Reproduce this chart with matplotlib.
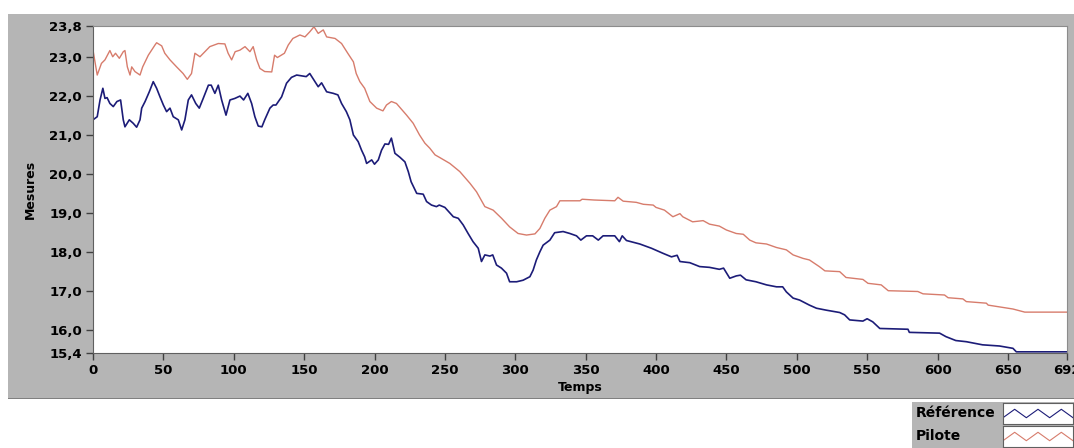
import matplotlib.pyplot as plt
from matplotlib.patches import Rectangle

# Référence (blue)
ref_t = [0, 3, 5, 7, 8.5, 10, 12, 14.4, 17, 19.6, 21.5, 22.7, 25.8, 28.6, 31, 33.4,
         34.6, 37, 40, 42.8, 45.2, 47.6, 50, 52.3, 54.7, 57, 60.6, 63, 65.3, 67.7,
         70, 73, 75.5, 78.3, 82, 84, 86.6, 89, 91.4, 94.5, 97.3, 100.8, 104.4, 107,
         110, 112.7, 115, 117.4, 120, 122, 125.7, 128, 130, 134, 137.5, 141, 144.7,
         148, 151.5, 154, 157.7, 160, 162.4, 166, 170.7, 174, 176.6, 180, 182.5, 185,
         188.4, 190.8, 193, 194.4, 198, 200, 202.7, 205, 207.4, 210, 212, 214.5, 218,
         221.6, 224, 226, 230, 234.6, 237, 240.5, 244, 246, 250, 256, 259.5, 263,
         266.5, 270, 273.7, 276, 278.4, 282, 284, 286.7, 290.2, 293.8, 296, 301,
         305.6, 310.4, 312.7, 315, 317.5, 319.8, 324.6, 328, 334, 338.8, 343.5, 346.6,
         350.6, 355, 359, 362.4, 370.7, 372, 374, 376, 379, 388.5, 396.8, 405, 411,
         415, 417, 424, 431, 438, 445, 448, 452.4, 457, 460, 464, 471, 478.5, 485.6,
         490, 492.6, 497.4, 502, 509, 514, 521, 530.5, 534, 537.6, 547, 550, 554,
         559, 579, 580, 601.5, 604, 606, 613, 620.5, 632, 644, 653.6, 656, 692]
ref_v = [21.39, 21.47, 21.90, 22.20, 21.94, 21.96, 21.81, 21.73, 21.86, 21.90, 21.39,
         21.21, 21.39, 21.30, 21.20, 21.39, 21.69, 21.86, 22.11, 22.37, 22.20, 21.98,
         21.77, 21.60, 21.69, 21.47, 21.39, 21.13, 21.39, 21.90, 22.03, 21.81, 21.69,
         21.94, 22.28, 22.28, 22.07, 22.28, 21.90, 21.51, 21.90, 21.94, 22.00, 21.90,
         22.07, 21.81, 21.47, 21.23, 21.21, 21.39, 21.69, 21.77, 21.77, 21.98, 22.33,
         22.48, 22.54, 22.52, 22.50, 22.58, 22.37, 22.24, 22.34, 22.11, 22.07, 22.03,
         21.81, 21.60, 21.39, 21.00, 20.83, 20.61, 20.44, 20.27, 20.36, 20.25, 20.36,
         20.61, 20.77, 20.76, 20.92, 20.53, 20.43, 20.31, 20.06, 19.80, 19.50, 19.48,
         19.29, 19.20, 19.16, 19.20, 19.14, 18.90, 18.86, 18.69, 18.47, 18.26, 18.09,
         17.75, 17.92, 17.89, 17.92, 17.66, 17.58, 17.45, 17.23, 17.23, 17.27, 17.36,
         17.53, 17.79, 18.00, 18.17, 18.30, 18.49, 18.52, 18.47, 18.41, 18.30, 18.41,
         18.41, 18.30, 18.41, 18.41, 18.35, 18.26, 18.41, 18.29, 18.20, 18.09, 17.96,
         17.87, 17.91, 17.75, 17.72, 17.62, 17.60, 17.55, 17.58, 17.32, 17.38, 17.40,
         17.28, 17.23, 17.15, 17.10, 17.10, 16.97, 16.81, 16.76, 16.63, 16.55, 16.50,
         16.44, 16.38, 16.25, 16.22, 16.28, 16.20, 16.03, 16.01, 15.93, 15.91, 15.86,
         15.82, 15.72, 15.69, 15.61, 15.58, 15.52, 15.43, 15.43]

# Pilote (red)
pil_t = [0, 3, 6, 8.5, 12, 14, 16, 18.7, 21.5, 22.7, 24.4, 26.3, 27.5, 29.8, 33.4,
         35.3, 39.3, 44, 45.2, 48.8, 51, 54.7, 59.4, 64, 67, 70, 72.4, 76, 79.5, 83,
         86, 89, 93.7, 96, 98.5, 101, 104.4, 108, 111.5, 113.8, 116.3, 118.6, 122,
         127, 129, 131, 136, 138.7, 142, 147, 150.6, 154, 157, 160, 163.6, 166, 172,
         176.6, 181, 185, 187, 189.6, 193, 196.7, 201.5, 206, 208.5, 212, 215.6, 218,
         222.8, 227.5, 232, 235.8, 239.3, 243, 246.4, 253.5, 260.6, 267.8, 272.5,
         278.4, 284.3, 290.3, 296, 302, 308, 314, 317.5, 321, 324.6, 329.3, 331.7,
         346, 347.5, 356, 370.7, 373, 376.7, 386, 391, 398, 400, 406, 412, 417, 419,
         426, 433.5, 438, 445, 450, 457, 462, 466.6, 471, 478.5, 485.6, 492.6, 497.4,
         504.5, 509, 516, 520, 530.5, 535, 547, 550.6, 560, 565, 586, 589.7, 605,
         607.5, 618, 620.5, 634.7, 636, 653.6, 662, 692]
pil_v = [23.18, 22.54, 22.84, 22.93, 23.17, 23.01, 23.10, 22.97, 23.14, 23.17, 22.75,
         22.54, 22.75, 22.63, 22.54, 22.75, 23.05, 23.31, 23.37, 23.29, 23.10, 22.93,
         22.75, 22.58, 22.43, 22.58, 23.10, 23.01, 23.14, 23.27, 23.31, 23.35, 23.34,
         23.10, 22.93, 23.14, 23.18, 23.27, 23.14, 23.27, 22.93, 22.71, 22.63, 22.62,
         23.05, 22.99, 23.10, 23.31, 23.48, 23.57, 23.52, 23.65, 23.78, 23.61, 23.70,
         23.52, 23.48, 23.35, 23.10, 22.88, 22.58, 22.37, 22.20, 21.86, 21.69, 21.62,
         21.77, 21.86, 21.81, 21.71, 21.51, 21.30, 21.00, 20.79, 20.66, 20.49, 20.42,
         20.27, 20.06, 19.76, 19.54, 19.16, 19.07, 18.86, 18.64, 18.47, 18.43, 18.46,
         18.60, 18.86, 19.07, 19.16, 19.31, 19.31, 19.35, 19.33, 19.31, 19.40, 19.30,
         19.27, 19.22, 19.20, 19.14, 19.07, 18.90, 18.98, 18.90, 18.77, 18.80, 18.71,
         18.66, 18.56, 18.47, 18.45, 18.30, 18.23, 18.20, 18.11, 18.05, 17.92, 17.83,
         17.79, 17.62, 17.51, 17.49, 17.34, 17.29, 17.19, 17.15, 17.00, 16.98, 16.92,
         16.89, 16.82, 16.79, 16.72, 16.68, 16.63, 16.53, 16.45, 16.45]

y_ticks = [23.8, 23.0, 22.0, 21.0, 20.0, 19.0, 18.0, 17.0, 16.0, 15.4]
x_ticks = [0, 50, 100, 150, 200, 250, 300, 350, 400, 450, 500, 550, 600, 650, 692]

ref_color = "#1c1c78"
pil_color = "#d77c6c"
panel_gray = "#b5b5b5"
tick_color = "#404040"


def main():
    fig = plt.figure(figsize=(10.74, 4.48), dpi=100)
    fig.patch.set_facecolor("white")

    # gray panel behind the graph
    fig.patches.append(Rectangle((8 / 1074, 1 - 398 / 448), 1, 384 / 448,
                                 transform=fig.transFigure, facecolor=panel_gray,
                                 edgecolor="none", zorder=-2))
    fig.patches.append(Rectangle((8 / 1074, 1 - 399 / 448), 1, 1.5 / 448,
                                 transform=fig.transFigure, facecolor="#808080",
                                 edgecolor="none", zorder=-2))
    # legend box at bottom right
    fig.patches.append(Rectangle((912 / 1074, 0), 1, 46 / 448,
                                 transform=fig.transFigure, facecolor=panel_gray,
                                 edgecolor="none", zorder=-2))

    ax = fig.add_axes([93 / 1074, 1 - 353 / 448, 974 / 1074, 327 / 448])
    ax.set_facecolor("white")
    ax.plot(ref_t, ref_v, color=ref_color, lw=1.2)
    ax.plot(pil_t, pil_v, color=pil_color, lw=1.0)

    ax.set_xlim(0, 692)
    ax.set_ylim(15.4, 23.8)
    ax.set_yticks(y_ticks)
    ax.set_yticklabels([f"{v:.1f}".replace(".", ",") for v in y_ticks])
    ax.set_xticks(x_ticks)
    ax.set_xticklabels([str(v) for v in x_ticks])
    ax.tick_params(direction="out", length=5, width=1, color=tick_color,
                   labelsize=9.5, labelcolor="black", pad=3)
    for lbl in ax.get_xticklabels() + ax.get_yticklabels():
        lbl.set_fontweight("bold")
    for side in ["left", "bottom"]:
        ax.spines[side].set_color("#606060")
    for side in ["top", "right"]:
        ax.spines[side].set_color("#8c8c8c")

    ax.set_xlabel("Temps", fontsize=9, fontweight="bold", labelpad=3)
    ax.set_ylabel("Mesures", fontsize=9, fontweight="bold", labelpad=9)

    names = ["Référence", "Pilote"]
    colors = [ref_color, pil_color]
    for i, (name, col) in enumerate(zip(names, colors)):
        y_top = 403 + i * 23
        fig.text(916 / 1074, 1 - (y_top + 10) / 448, name, fontsize=10,
                 fontweight="bold", va="center", ha="left")
        sw = fig.add_axes([1003 / 1074, 1 - (y_top + 21) / 448, 70 / 1074, 21 / 448])
        sw.set_facecolor("white")
        sw.plot([0, 1, 2, 3, 4, 5, 6], [0.3, 0.7, 0.3, 0.7, 0.3, 0.7, 0.3],
                color=col, lw=0.8)
        sw.set_xlim(0, 6)
        sw.set_ylim(0, 1)
        sw.set_xticks([])
        sw.set_yticks([])
        for sp in sw.spines.values():
            sp.set_color("#606060")
            sp.set_linewidth(0.8)

    fig.savefig("out.png", dpi=100)
    plt.close(fig)


if __name__ == "__main__":
    main()
